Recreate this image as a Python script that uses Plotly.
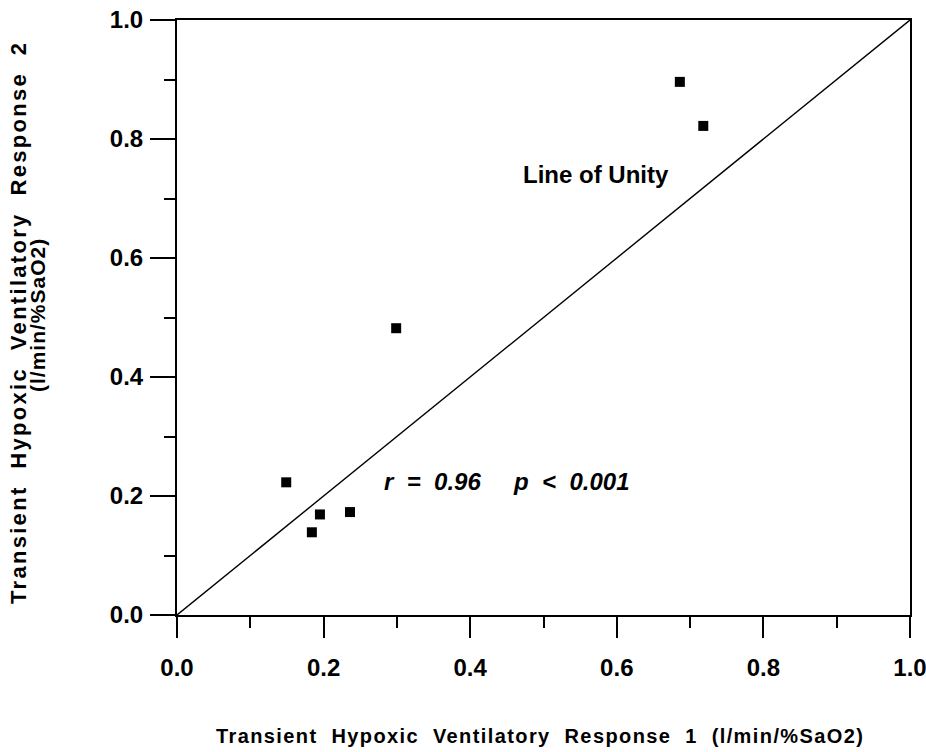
import plotly.graph_objects as go

# Transient hypoxic ventilatory response, test 1 vs test 2 (l/min/%SaO2)
thvr_1 = [0.686, 0.718, 0.299, 0.149, 0.195, 0.184, 0.236]
thvr_2 = [0.896, 0.822, 0.482, 0.223, 0.169, 0.139, 0.173]

unity_x = [0.0, 1.0]
unity_y = [0.0, 1.0]

tick_vals = [0.0, 0.2, 0.4, 0.6, 0.8, 1.0]
tick_text = ["0.0", "0.2", "0.4", "0.6", "0.8", "1.0"]

FONT = "Liberation Sans, Arial, Helvetica, sans-serif"

# plot area in pixels
W, H = 926, 752
L, R, T, B = 177, 16, 20, 137
PW, PH = W - L - R, H - T - B


def px_x(px):
    return (px - L) / PW


def px_y(py):
    return (H - B - py) / PH


fig = go.Figure()

fig.add_trace(go.Scatter(
    x=unity_x, y=unity_y, mode="lines",
    line=dict(color="black", width=1.4),
    hoverinfo="skip", showlegend=False,
))

fig.add_trace(go.Scatter(
    x=thvr_1, y=thvr_2, mode="markers",
    marker=dict(symbol="square", size=10, color="black"),
    showlegend=False,
))

axis_common = dict(
    range=[0, 1],
    showgrid=False, zeroline=False,
    showline=True, linecolor="black", linewidth=2, mirror=True,
    ticks="outside", tickcolor="black", tickwidth=2,
    tickvals=tick_vals, ticktext=tick_text,
    tickfont=dict(family=FONT, size=24, color="black", weight="bold"),
    ticklabeloverflow="allow",
    minor=dict(dtick=0.1, ticks="outside", ticklen=11, tickcolor="black", tickwidth=2),
    fixedrange=True,
)

fig.update_xaxes(**axis_common, ticklen=21, ticklabelstandoff=9)
fig.update_yaxes(**axis_common, ticklen=25, ticklabelstandoff=2)

fig.add_annotation(
    x=0.572, y=0.740, xref="x", yref="y",
    text="Line of Unity", showarrow=False,
    font=dict(family=FONT, size=24, color="black", weight="bold"),
)
fig.add_annotation(
    x=0.449, y=0.225, xref="x", yref="y",
    text="<i>r  =  0.96     p  <  0.001</i>", showarrow=False,
    font=dict(family=FONT, size=24, color="black", weight="bold"),
)

# Axis titles (letter-spaced, as typeset on the original figure)
fig.add_annotation(
    x=px_x(540), y=px_y(736), xref="paper", yref="paper",
    text='<span style="letter-spacing:1.4px">Transient  Hypoxic  Ventilatory  Response  1  (l/min/%SaO2)</span>',
    showarrow=False, xanchor="center", yanchor="middle",
    font=dict(family=FONT, size=20, color="black", weight="bold"),
)
fig.add_annotation(
    x=px_x(18), y=px_y(323), xref="paper", yref="paper",
    text='<span style="letter-spacing:2.3px">Transient  Hypoxic  Ventilatory  Response  2</span>',
    showarrow=False, textangle=-90, xanchor="center", yanchor="middle",
    font=dict(family=FONT, size=22, color="black", weight="bold"),
)
fig.add_annotation(
    x=px_x(37), y=px_y(315), xref="paper", yref="paper",
    text='<span style="letter-spacing:1px">(l/min/%SaO2)</span>',
    showarrow=False, textangle=-90, xanchor="center", yanchor="middle",
    font=dict(family=FONT, size=21, color="black", weight="bold"),
)

fig.update_layout(
    width=W, height=H,
    margin=dict(l=L, r=R, t=T, b=B, autoexpand=False),
    paper_bgcolor="white", plot_bgcolor="white",
)

fig.write_html("out.html")
